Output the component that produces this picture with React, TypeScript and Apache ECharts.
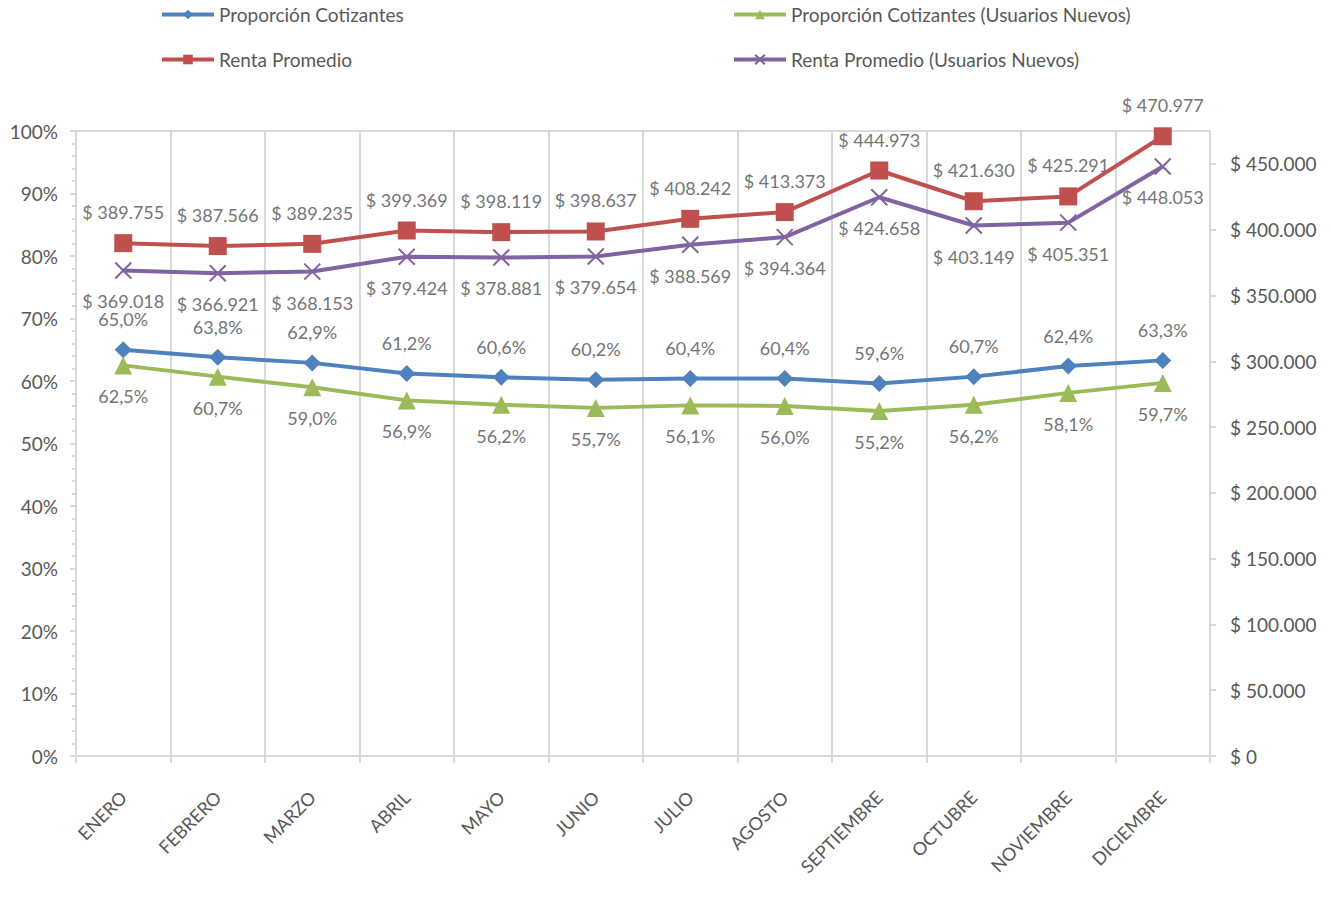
import React, { useEffect, useRef } from "react";
import * as echarts from "echarts";

const months = ["ENERO", "FEBRERO", "MARZO", "ABRIL", "MAYO", "JUNIO", "JULIO", "AGOSTO", "SEPTIEMBRE", "OCTUBRE", "NOVIEMBRE", "DICIEMBRE"];
const propCotizantes = [65.0, 63.8, 62.9, 61.2, 60.6, 60.2, 60.4, 60.4, 59.6, 60.7, 62.4, 63.3];
const propCotizantesNuevos = [62.5, 60.7, 59.0, 56.9, 56.2, 55.7, 56.1, 56.0, 55.2, 56.2, 58.1, 59.7];
const rentaPromedio = [389755, 387566, 389235, 399369, 398119, 398637, 408242, 413373, 444973, 421630, 425291, 470977];
const rentaPromedioNuevos = [369018, 366921, 368153, 379424, 378881, 379654, 388569, 394364, 424658, 403149, 405351, 448053];

const FONT = "Lato";
const TXT = "#595959";
const GRIDC = "#d9d9d9";

const fmtPct = (v: number) => v.toFixed(1).replace(".", ",") + "%";
const fmtMoney = (v: number) => "$ " + Math.round(v).toString().replace(/\B(?=(\d{3})+(?!\d))/g, ".");

export default function App() {
  const ref = useRef<HTMLDivElement>(null);
  useEffect(() => {
    const chart = echarts.init(ref.current!, null, { renderer: "svg" });
    const labelStyle = { fontFamily: FONT, fontSize: 18, color: "#757575" };
    const CROSS = "path://M0,0L10,10M10,0L0,10";
    const mk = (name: string, data: number[], color: string, symbol: string, yIdx: number, pos: string, fmt: (v: number) => string, size: number) => ({
      name,
      type: "line",
      yAxisIndex: yIdx,
      data,
      symbol,
      symbolSize: size,
      lineStyle: { color, width: 4 },
      itemStyle: { color, borderColor: color, borderWidth: symbol === CROSS ? 2 : 0 },
      label: { show: true, position: pos, distance: 13, formatter: (p: any) => fmt(p.value), ...labelStyle },
      z: 3,
    });
    const legendText = { fontFamily: FONT, fontSize: 19, color: TXT };
    chart.setOption({
      animation: false,
      backgroundColor: "#fff",
      grid: { left: 76, right: 121, top: 131, bottom: 144, show: true, borderColor: GRIDC, borderWidth: 2 },
      legend: [
        {
          orient: "vertical", left: 160, top: 5, padding: 0, itemWidth: 52, itemHeight: 12, itemGap: 26,
          textStyle: legendText, lineStyle: { width: 4 },
          data: ["Proporción Cotizantes", "Renta Promedio"],
        },
        {
          orient: "vertical", left: 732, top: 5, padding: 0, itemWidth: 52, itemHeight: 12, itemGap: 26,
          textStyle: legendText, lineStyle: { width: 4 },
          data: ["Proporción Cotizantes (Usuarios Nuevos)", "Renta Promedio (Usuarios Nuevos)"],
        },
      ],
      xAxis: {
        type: "category",
        data: months,
        boundaryGap: true,
        axisLine: { lineStyle: { color: GRIDC, width: 2 } },
        axisTick: { show: true, length: 7, lineStyle: { color: GRIDC, width: 2 } },
        splitLine: { show: true, lineStyle: { color: GRIDC, width: 2 } },
        axisLabel: { rotate: 45, margin: 38, fontFamily: FONT, fontSize: 18, color: TXT, interval: 0 },
      },
      yAxis: [
        {
          type: "value", min: 0, max: 100, interval: 10,
          axisLine: { show: true, lineStyle: { color: GRIDC, width: 2 } },
          axisTick: { show: true, length: 6, lineStyle: { color: GRIDC, width: 2 } },
          minorTick: { show: true, splitNumber: 5, length: 4, lineStyle: { color: GRIDC, width: 2 } },
          splitLine: { show: false },
          axisLabel: { formatter: (v: number) => v + "%", fontFamily: FONT, fontSize: 19, color: TXT, margin: 18 },
        },
        {
          type: "value", min: 0, max: 475000, interval: 50000,
          axisLine: { show: true, lineStyle: { color: GRIDC, width: 2 } },
          axisTick: { show: true, length: 6, lineStyle: { color: GRIDC, width: 2 } },
          splitLine: { show: false },
          axisLabel: { formatter: (v: number) => fmtMoney(v), showMaxLabel: false, fontFamily: FONT, fontSize: 19, color: TXT, margin: 20 },
        },
      ],
      series: [
        mk("Proporción Cotizantes", propCotizantes, "#4f81bd", "diamond", 0, "top", fmtPct, 17),
        mk("Renta Promedio", rentaPromedio, "#c0504d", "rect", 1, "top", fmtMoney, 18),
        mk("Proporción Cotizantes (Usuarios Nuevos)", propCotizantesNuevos, "#9bbb59", "triangle", 0, "bottom", fmtPct, 18),
        mk("Renta Promedio (Usuarios Nuevos)", rentaPromedioNuevos, "#8064a2", CROSS, 1, "bottom", fmtMoney, 16),
      ],
    });
    return () => chart.dispose();
  }, []);
  return <div ref={ref} style={{ position: "absolute", left: 0, top: 0, width: 1331, height: 900 }} />;
}
